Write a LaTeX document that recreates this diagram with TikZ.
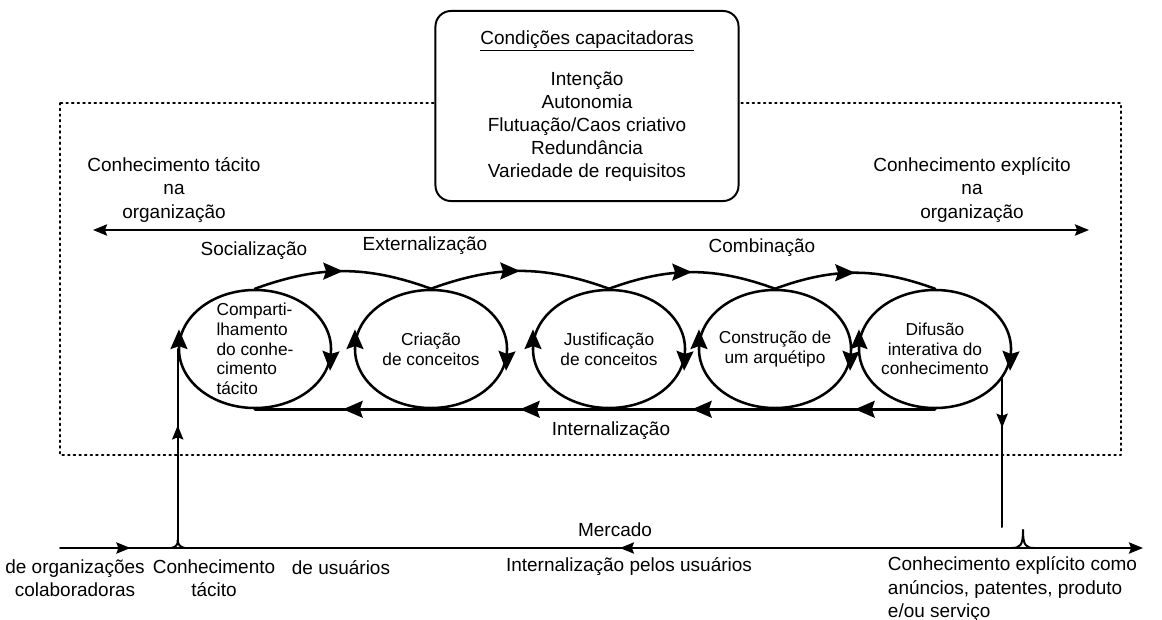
\documentclass[tikz,border=0pt]{standalone}
\usepackage{fontspec}
\setmainfont{Liberation Sans}
\usetikzlibrary{decorations.markings,arrows.meta}
\usetikzlibrary{positioning,shapes.geometric}

\tikzset{
  ->-/.style={decoration={markings,mark=at position #1 with {\arrow{>}}},postaction={decorate}},
  ->-/.default=0.5,
  -<-/.style={decoration={markings,mark=at position #1 with {\arrow{<}}},postaction={decorate}},
  -<-/.default=0.5,
  fase/.style={ellipse,draw,line width=1.8pt,minimum width=3.8cm,minimum height=2.95cm,
    inner sep=0pt,
    decoration={markings,mark=at position 0.5 with {\arrow{<}},mark=at position 0.995 with {\arrow{<}}},
    postaction={decorate}},
  texto/.style={font=\fontsize{12.3}{14}\selectfont,align=center},
  arco/.style={line width=1.8pt},
  fio/.style={line width=1.4pt,>={Stealth[length=10pt,width=8pt,inset=1.5pt]}},
  moldura/.style={line width=1.3pt,dash pattern=on 1.2pt off 2.8pt},
  caixa/.style={draw,line width=1.4pt,rounded corners=11pt,fill=white,align=center,
    minimum width=7.575cm,minimum height=4.75cm}
}

\begin{document}
\begin{tikzpicture}[x=0.025cm,y=-0.025cm,line cap=round,line join=round,
  >={Stealth[length=14pt,width=12pt,inset=2pt]},font=\fontsize{13.5}{16.4}\selectfont]
\useasboundingbox (0,0) rectangle (1162,619);

% moldura da organizacao
\draw[moldura] (60,103) rectangle (1121,455);

% condicoes capacitadoras
\node[caixa] (cond) at (587,106) {\underline{Condições capacitadoras}\\[12.5pt]
  Intenção\\Autonomia\\Flutuação/Caos criativo\\Redundância\\Variedade de requisitos};

\node[align=center] (tacorg) at (174,190) {Conhecimento tácito\\na\\organização};
\node[align=center] (exporg) at (972,190) {Conhecimento explícito\\na\\organização};
\coordinate (setaE) at (93,230);
\coordinate (setaD) at (1089,230);
\draw[fio,<->] (setaE) -- (setaD);

% as cinco fases
\node[fase] (compart) at (255,349) {};
\node[fase] (criacao) at (431,349) {};
\node[fase] (justif) at (609,349) {};
\node[fase] (arquet) at (775,349) {};
\node[fase] (difusao) at (935,349) {};
\node[texto,align=left] (tcompart) at (compart) {Comparti-\\lhamento\\do conhe-\\cimento\\tácito};
\node[texto] (tcriacao) at (criacao) {Criação\\de conceitos};
\node[texto] (tjustif) at (justif) {Justificação\\de conceitos};
\node[texto] (tarquet) at (arquet) {Construção de\\um arquétipo};
\node[texto] (tdifusao) at (difusao) {Difusão\\interativa do\\conhecimento};

\draw[arco,->-] (compart.north) to[bend left=20] (criacao.north);
\draw[arco,->-] (criacao.north) to[bend left=20] (justif.north);
\draw[arco,->-] (justif.north) to[bend left=20] (arquet.north);
\draw[arco,->-] (arquet.north) to[bend left=20] (difusao.north);

\draw[arco,->-] (difusao.south) -- (arquet.south);
\draw[arco,->-] (arquet.south) -- (justif.south);
\draw[arco,->-] (justif.south) -- (criacao.south);
\draw[arco,->-] (criacao.south) -- (compart.south);

\node (soc) at (254,251) {Socialização};
\node (ext) at (425,246) {Externalização};
\node (comb) at (762,248) {Combinação};
\node (intern) at (611,431) {Internalização};

% mercado
\coordinate (mIni) at (60,548);
\coordinate (mFim) at (1143,548);
\coordinate (pe) at (178,540);
\coordinate (fimDif) at (1003,527);
\draw[fio,->,decoration={markings,mark=at position 0.065 with {\arrow{>}},mark=at position 0.53 with {\arrow{<}}},
  postaction={decorate}] (mIni) -- (mFim);
\draw[fio,->-=0.6] (compart.west |- pe) -- (compart.west);
\draw[fio] (171,548) .. controls (176,547) and (178,545) .. (compart.west |- pe)
  .. controls (178,545) and (180,547) .. (185,548);
\draw[fio,->-=0.33] (difusao.-24) -- (difusao.-24 |- fimDif);
\draw[fio] (1011,548) .. controls (1020,548) and (1023,546) .. (1023,530);
\draw[fio] (1035,548) .. controls (1026,548) and (1023,546) .. (1023,530);

\node (merc) at (615,530) {Mercado};
\node (intusu) at (629,567) {Internalização pelos usuários};
\node[align=center] (colab) at (75,578) {de organizações\\colaboradoras};
\node[align=center] (ctac) at (214,578) {Conhecimento\\tácito};
\node (usu) at (341,568) {de usuários};
\node[align=left,anchor=north west] (cexp) at (883,552) {Conhecimento explícito como\\anúncios, patentes, produto\\e/ou serviço};
\end{tikzpicture}
\end{document}
